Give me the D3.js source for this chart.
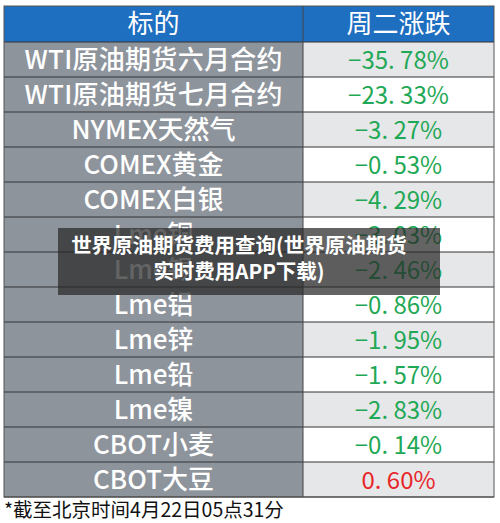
<!DOCTYPE html><html><head><meta charset="utf-8"><script src="https://cdn.jsdelivr.net/npm/d3@7"></script>
<style>body{margin:0;background:#fff}</style></head><body><svg id="c" width="500" height="523"></svg><script>
const headers=["标的","周二涨跌"];
const names=["WTI原油期货六月合约","WTI原油期货七月合约","NYMEX天然气","COMEX黄金","COMEX白银","Lme铜","Lme锡","Lme铝","Lme锌","Lme铅","Lme镍","CBOT小麦","CBOT大豆"];
const changes=[-35.78,-23.33,-3.27,-0.53,-4.29,-3.03,-2.46,-0.86,-1.95,-1.57,-2.83,-0.14,0.60];
const note="*截至北京时间4月22日05点31分";
const title=["世界原油期货费用查询(世界原油期货","实时费用APP下载)"];
const svg=d3.select("#c");
const F="'Noto Sans CJK SC','Noto Sans',sans-serif";
const x0=4,x1=303,x2=494,tY=6,hh=36;
const y=d3.scaleBand().domain(d3.range(names.length)).range([tY+hh,497]);
svg.append("rect").attr("x",x0).attr("y",tY).attr("width",x2-x0).attr("height",hh).attr("fill","#1f6fc1");
headers.forEach((h,i)=>svg.append("text").attr("x",i?(x1+x2)/2:(x0+x1)/2).attr("y",tY+hh/2+9).attr("text-anchor","middle").attr("font-family",F).attr("font-size",26).attr("fill","#fff").text(h));
const g=svg.selectAll("g.r").data(names).join("g");
g.append("rect").attr("x",x0).attr("y",(d,i)=>y(i)).attr("width",x1-x0).attr("height",y.bandwidth()).attr("fill","#8e949c");
g.append("rect").attr("x",x1).attr("y",(d,i)=>y(i)).attr("width",x2-x1).attr("height",y.bandwidth()).attr("fill",(d,i)=>i%2?"#ffffff":"#e6e7e9");
g.append("text").attr("x",(x0+x1)/2).attr("y",(d,i)=>y(i)+y.bandwidth()/2+9).attr("text-anchor","middle").attr("font-family",F).attr("font-size",26).attr("font-weight",500).attr("textLength",d=>d.length>8?258:null).attr("fill","#fff").text(d=>d);
g.append("text").attr("x",(x1+x2)/2).attr("y",(d,i)=>y(i)+y.bandwidth()/2+9).attr("text-anchor","middle").attr("font-family",F).attr("font-size",24).attr("fill",(d,i)=>changes[i]<0?"#1fa855":"#e8262a").text((d,i)=>(changes[i]<0?"−":"")+Math.abs(changes[i]).toFixed(2).replace("."," .").replace(" .",". ")+"%");
svg.selectAll("line.h").data(d3.range(names.length+1)).join("line").attr("x1",x0).attr("x2",x2).attr("y1",i=>i?y(i-1)+y.bandwidth():tY+hh).attr("y2",i=>i?y(i-1)+y.bandwidth():tY+hh).attr("stroke","#333").attr("stroke-width",1);
svg.append("line").attr("x1",x1).attr("x2",x1).attr("y1",tY).attr("y2",497).attr("stroke","#444");
svg.append("rect").attr("x",x0).attr("y",tY).attr("width",x2-x0).attr("height",497-tY).attr("fill","none").attr("stroke","#555");
svg.append("text").attr("x",4).attr("y",517).attr("font-family",F).attr("font-size",19.5).attr("fill","#111").text(note);
svg.append("rect").attr("x",58).attr("y",228).attr("width",382).attr("height",67).attr("fill","rgba(40,40,40,0.72)");
title.forEach((t,i)=>svg.append("text").attr("x",239).attr("y",253+i*26).attr("text-anchor","middle").attr("font-family",F).attr("font-size",20.5).attr("font-weight","bold").attr("fill","#fff").text(t));
</script></body></html>
